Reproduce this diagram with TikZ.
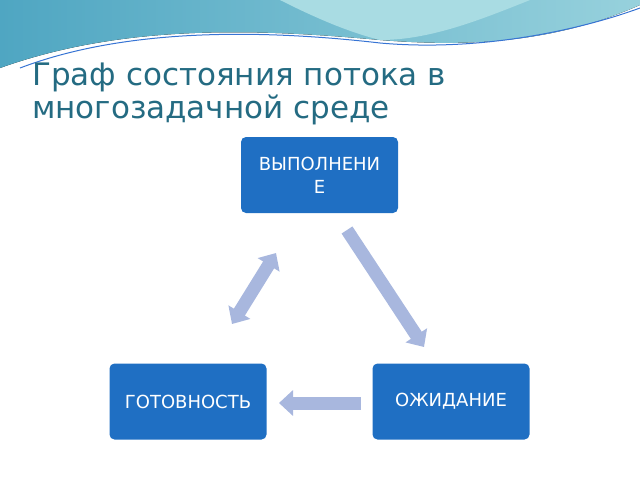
\documentclass[tikz,border=0pt]{standalone}
\usepackage{fontspec}
\setmainfont{DejaVu Sans}
\usetikzlibrary{arrows.meta}
\definecolor{boxblue}{HTML}{1F6FC3}
\definecolor{arrowblue}{HTML}{A8B7DE}
\definecolor{titleteal}{HTML}{246B82}
\definecolor{bandA}{HTML}{4FA6C2}
\definecolor{bandB}{HTML}{A9DCE3}
\tikzset{
  state/.style={fill=boxblue, draw=none, rounded corners=5pt, minimum width=157pt,
    minimum height=76pt, text=white, font=\fontsize{18}{23}\selectfont, align=center},
  flow/.style={draw=arrowblue, line width=13pt, -{Triangle[width=25pt,length=14pt]}},
  flowboth/.style={draw=arrowblue, line width=13pt, {Triangle[width=25pt,length=14pt]}-{Triangle[width=25pt,length=14pt]}}
}
\begin{document}
\begin{tikzpicture}[x=1pt,y=-1pt]
 \useasboundingbox (0,0) rectangle (640,480);
 % top band
 \fill[left color=bandA, right color=bandB!80!bandA] (0,0) -- (640,0) -- (640,5)
   .. controls (560,40) and (480,48) .. (380,40)
   .. controls (250,28) and (120,25) .. (0,68) -- cycle;
 \fill[bandB] (280,0) -- (530,0) .. controls (480,20) and (430,40) .. (380,40)
   .. controls (340,30) and (300,10) .. (280,0) -- cycle;
 \draw[bandA!70!blue, line width=1pt] (20,68) .. controls (120,30) and (250,28) .. (380,43)
   .. controls (480,52) and (580,30) .. (640,8);
 % title
 \node[anchor=north west, align=left, text=titleteal, font=\fontsize{31}{33}\selectfont, inner sep=0pt]
   (title) at (32,63) {Граф состояния потока в\\многозадачной среде};
 % states
 \node[state] (run) at (319.5,175) {ВЫПОЛНЕНИ\\Е};
 \node[state] (ready) at (188,401.5) {ГОТОВНОСТЬ};
 \node[state] (wait) at (451,401.5) {ОЖИДАНИЕ};
 % arrows
 \coordinate (r1) at (276,253);
 \coordinate (r2) at (232,324);
 \coordinate (w1) at (347,230);
 \coordinate (w2) at (424,347);
 \coordinate (q1) at (361,403);
 \coordinate (q2) at (279,403);
 \draw[flowboth] (r1) -- (r2);
 \draw[flow] (w1) -- (w2);
 \draw[flow] (q1) -- (q2);
\end{tikzpicture}
\end{document}
